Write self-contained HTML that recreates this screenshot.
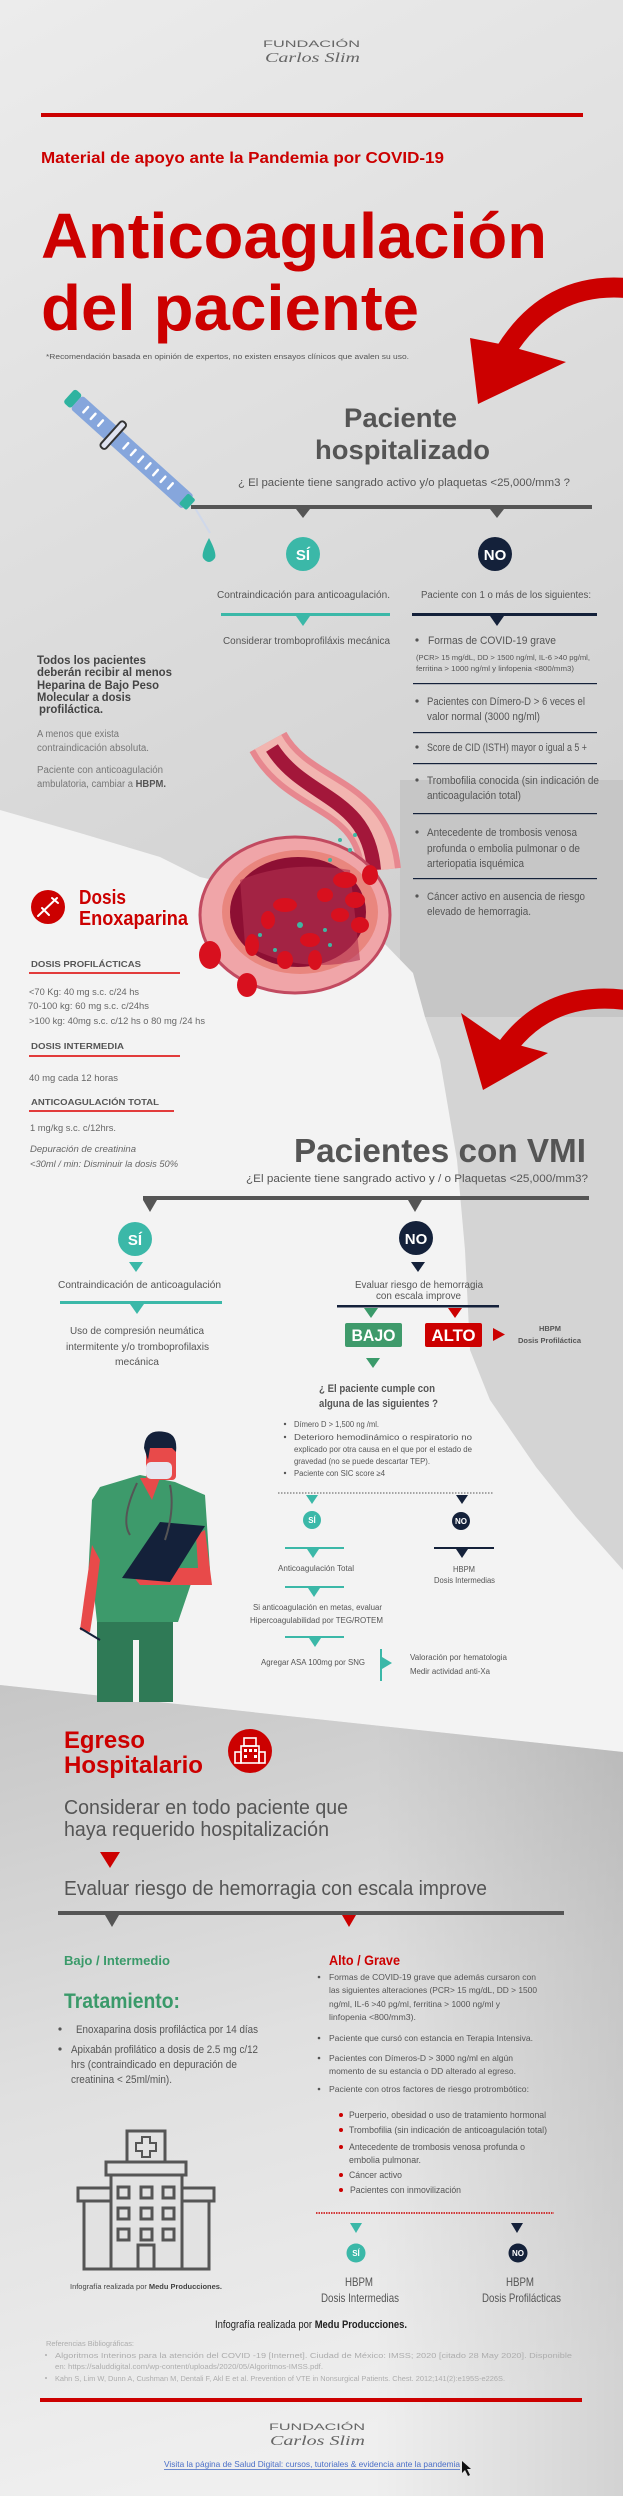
<!DOCTYPE html>
<html><head><meta charset="utf-8">
<style>
html,body{margin:0;padding:0;}
body{width:623px;height:2496px;overflow:hidden;background:#e0e0e0;}
svg{display:block;}
text{font-family:"Liberation Sans",sans-serif;}
</style></head>
<body>
<svg width="623" height="2496" viewBox="0 0 623 2496" xmlns="http://www.w3.org/2000/svg">
<defs>
<linearGradient id="gTop" x1="0" y1="0" x2="0.3" y2="1"><stop offset="0" stop-color="#ececec"/><stop offset="1" stop-color="#d0d0d0"/></linearGradient>
<linearGradient id="gBot" x1="0" y1="0" x2="0.2" y2="1"><stop offset="0" stop-color="#c6c6c6"/><stop offset="0.5" stop-color="#e0e0e0"/><stop offset="1" stop-color="#efefef"/></linearGradient>
<linearGradient id="gR" x1="0" y1="0" x2="1" y2="0"><stop offset="0.6" stop-color="#000" stop-opacity="0"/><stop offset="1" stop-color="#000" stop-opacity="0.12"/></linearGradient>
</defs>
<!-- backgrounds -->
<rect x="0" y="0" width="623" height="1100" fill="url(#gTop)"/>
<rect x="400" y="780" width="223" height="237" fill="#c6c6c6"/>
<rect x="420" y="1017" width="203" height="700" fill="#d4d4d4"/>
<polygon points="0,810 80,833 160,857 200,877 300,900 381,940 413,973 425,1017 440,1060 457,1160 465,1250 470,1350 490,1400 536,1467 576,1517 623,1570 623,1752 0,1685" fill="#f3f3f3"/>
<polygon points="0,1685 623,1752 623,2496 0,2496" fill="url(#gBot)"/>
<polygon points="0,1685 623,1752 623,2496 0,2496" fill="url(#gR)"/>

<!-- header -->
<text x="263" y="47" font-size="9" fill="#666" textLength="97" lengthAdjust="spacingAndGlyphs">FUNDACIÓN</text>
<text x="265" y="62" font-size="14" fill="#666" font-style="italic" style="font-family:'Liberation Serif',serif" textLength="95" lengthAdjust="spacingAndGlyphs">Carlos Slim</text>
<rect x="41" y="113" width="542" height="4" fill="#cc0000"/>
<text x="41" y="163" font-size="16" font-weight="bold" fill="#cc0000" textLength="403" lengthAdjust="spacingAndGlyphs">Material de apoyo ante la Pandemia por COVID-19</text>
<text x="41" y="258" font-size="64" font-weight="bold" fill="#cc0000" textLength="506" lengthAdjust="spacingAndGlyphs">Anticoagulación</text>
<text x="41" y="330" font-size="64" font-weight="bold" fill="#cc0000" textLength="378" lengthAdjust="spacingAndGlyphs">del paciente</text>
<text x="46" y="359" font-size="7" fill="#555" textLength="363" lengthAdjust="spacingAndGlyphs">*Recomendación basada en opinión de expertos, no existen ensayos clínicos que avalen su uso.</text>

<!-- red arrow 1 -->
<path d="M626,288 Q548,282 505,352" fill="none" stroke="#cc0000" stroke-width="20"/>
<polygon points="470,338 478,404 566,362 505,345" fill="#cc0000"/>

<!-- syringe -->
<g transform="translate(72,398) rotate(42)">
<rect x="-4" y="-9" width="10" height="18" rx="3" fill="#2fb3a0"/>
<rect x="6" y="-9" width="150" height="18" rx="3" fill="#86a6dc"/>
<rect x="52" y="-17" width="7" height="34" rx="3" fill="#dfe3f0" stroke="#333" stroke-width="2"/>
<g stroke="#fff" stroke-width="2.5" stroke-linecap="round">
<line x1="18" y1="-4" x2="18" y2="3"/><line x1="28" y1="-4" x2="28" y2="3"/><line x1="38" y1="-4" x2="38" y2="3"/>
<line x1="72" y1="-4" x2="72" y2="3"/><line x1="82" y1="-4" x2="82" y2="3"/><line x1="92" y1="-4" x2="92" y2="3"/><line x1="102" y1="-4" x2="102" y2="3"/><line x1="112" y1="-4" x2="112" y2="3"/><line x1="122" y1="-4" x2="122" y2="3"/><line x1="132" y1="-4" x2="132" y2="3"/></g>
<rect x="150" y="-7" width="10" height="14" rx="2" fill="#2fb3a0"/>
</g>
<line x1="195" y1="508" x2="210" y2="533" stroke="#cfd8ea" stroke-width="2"/>
<path d="M209,538 Q201,553 203,558 Q209,566 215,558 Q217,553 209,538 Z" fill="#2fb3a0"/>

<!-- Paciente hospitalizado -->
<text x="344" y="427" font-size="27" font-weight="bold" fill="#555" textLength="113" lengthAdjust="spacingAndGlyphs">Paciente</text>
<text x="315" y="459" font-size="27" font-weight="bold" fill="#555" textLength="175" lengthAdjust="spacingAndGlyphs">hospitalizado</text>
<text x="238" y="486" font-size="11" fill="#555" textLength="332" lengthAdjust="spacingAndGlyphs">¿ El paciente tiene sangrado activo y/o plaquetas &lt;25,000/mm3 ?</text>
<rect x="191" y="505" width="401" height="4" fill="#555"/>
<polygon points="296,509 310,509 303,518" fill="#555"/><polygon points="490,509 504,509 497,518" fill="#555"/>
<circle cx="303" cy="554" r="17" fill="#3bb8a8"/><text x="303" y="560" font-size="15" font-weight="bold" fill="#fff" text-anchor="middle">SÍ</text>
<circle cx="495" cy="554" r="17" fill="#14213a"/><text x="495" y="560" font-size="15" font-weight="bold" fill="#fff" text-anchor="middle">NO</text>
<text x="217" y="598" font-size="10" fill="#555" textLength="173" lengthAdjust="spacingAndGlyphs">Contraindicación para anticoagulación.</text>
<text x="421" y="598" font-size="10" fill="#555" textLength="170" lengthAdjust="spacingAndGlyphs">Paciente con 1 o más de los siguientes:</text>
<rect x="221" y="613" width="169" height="3" fill="#3bb8a8"/><polygon points="296,616 310,616 303,626" fill="#3bb8a8"/>
<rect x="412" y="613" width="185" height="3" fill="#14213a"/><polygon points="490,616 504,616 497,626" fill="#14213a"/>
<text x="223" y="644" font-size="10" fill="#555" textLength="167" lengthAdjust="spacingAndGlyphs">Considerar tromboprofiláxis mecánica</text>

<g fill="#555" font-size="11">
<circle cx="417" cy="640" r="1.6"/>
<text x="428" y="644" textLength="128" lengthAdjust="spacingAndGlyphs">Formas de COVID-19 grave</text>
<text x="416" y="660" font-size="7.5" textLength="174" lengthAdjust="spacingAndGlyphs">(PCR&gt; 15 mg/dL, DD &gt; 1500 ng/ml, IL-6 &gt;40 pg/ml,</text>
<text x="416" y="671" font-size="7.5" textLength="158" lengthAdjust="spacingAndGlyphs">ferritina &gt; 1000 ng/ml y linfopenia &lt;800/mm3)</text>
<circle cx="417" cy="701" r="1.6"/>
<text x="427" y="705" textLength="158" lengthAdjust="spacingAndGlyphs">Pacientes con Dímero-D &gt; 6 veces el</text>
<text x="427" y="720" textLength="113" lengthAdjust="spacingAndGlyphs">valor normal (3000 ng/ml)</text>
<circle cx="417" cy="747" r="1.6"/>
<text x="427" y="751" textLength="160" lengthAdjust="spacingAndGlyphs">Score de CID (ISTH) mayor o igual a 5 +</text>
<circle cx="417" cy="780" r="1.6"/>
<text x="427" y="784" textLength="172" lengthAdjust="spacingAndGlyphs">Trombofilia conocida (sin indicación de</text>
<text x="427" y="799" textLength="94" lengthAdjust="spacingAndGlyphs">anticoagulación total)</text>
<circle cx="417" cy="832" r="1.6"/>
<text x="427" y="836" textLength="150" lengthAdjust="spacingAndGlyphs">Antecedente de trombosis venosa</text>
<text x="427" y="852" textLength="153" lengthAdjust="spacingAndGlyphs">profunda o embolia pulmonar o de</text>
<text x="427" y="867" textLength="97" lengthAdjust="spacingAndGlyphs">arteriopatia isquémica</text>
<circle cx="417" cy="896" r="1.6"/>
<text x="427" y="900" textLength="158" lengthAdjust="spacingAndGlyphs">Cáncer activo en ausencia de riesgo</text>
<text x="427" y="915" textLength="104" lengthAdjust="spacingAndGlyphs">elevado de hemorragia.</text>
</g>
<g fill="#14213a"><rect x="413" y="683" width="184" height="1.2"/><rect x="413" y="732" width="184" height="1.2"/><rect x="413" y="763" width="184" height="1.2"/><rect x="413" y="813" width="184" height="1.2"/><rect x="413" y="878" width="184" height="1.2"/></g>

<!-- left block -->
<g font-size="12" font-weight="bold" fill="#444">
<text x="37" y="664" textLength="109" lengthAdjust="spacingAndGlyphs">Todos los pacientes</text>
<text x="37" y="676" textLength="135" lengthAdjust="spacingAndGlyphs">deberán recibir al menos</text>
<text x="37" y="689" textLength="122" lengthAdjust="spacingAndGlyphs">Heparina de Bajo Peso</text>
<text x="37" y="701" textLength="94" lengthAdjust="spacingAndGlyphs">Molecular a dosis</text>
<text x="39" y="713" textLength="64" lengthAdjust="spacingAndGlyphs">profiláctica.</text>
</g>
<g font-size="10" fill="#777">
<text x="37" y="737" textLength="82" lengthAdjust="spacingAndGlyphs">A menos que exista</text>
<text x="37" y="751" textLength="112" lengthAdjust="spacingAndGlyphs">contraindicación absoluta.</text>
<text x="37" y="773" textLength="126" lengthAdjust="spacingAndGlyphs">Paciente con anticoagulación</text>
<text x="37" y="787" textLength="129" lengthAdjust="spacingAndGlyphs">ambulatoria, cambiar a <tspan font-weight="bold" fill="#555">HBPM.</tspan></text>
</g>

<!-- vein -->
<path d="M268,742 C300,800 372,790 380,870" fill="none" stroke="#e7878f" stroke-width="42"/>
<path d="M268,742 C300,800 372,790 380,870" fill="none" stroke="#f2b5b0" stroke-width="30"/>
<path d="M272,748 C305,800 368,795 374,870" fill="none" stroke="#a3173a" stroke-width="14"/>
<ellipse cx="295" cy="915" rx="95" ry="78" fill="#f0a5a8" stroke="#c24a60" stroke-width="3"/>
<ellipse cx="300" cy="912" rx="78" ry="62" fill="#e9867e"/>
<ellipse cx="298" cy="912" rx="68" ry="55" fill="#8d0f33"/>
<path d="M240,880 Q290,860 350,870 L360,960 Q300,975 245,945 Z" fill="#b33050" opacity="0.6"/>
<g fill="#d8101e">
<ellipse cx="285" cy="905" rx="12" ry="7"/><ellipse cx="252" cy="945" rx="7" ry="11"/><ellipse cx="310" cy="940" rx="10" ry="7"/>
<ellipse cx="345" cy="880" rx="12" ry="8"/><ellipse cx="355" cy="900" rx="10" ry="8"/><ellipse cx="340" cy="915" rx="9" ry="7"/>
<ellipse cx="360" cy="925" rx="9" ry="8"/><ellipse cx="285" cy="960" rx="8" ry="9"/><ellipse cx="315" cy="960" rx="7" ry="10"/>
<ellipse cx="210" cy="955" rx="11" ry="14"/><ellipse cx="247" cy="985" rx="10" ry="12"/><ellipse cx="370" cy="875" rx="8" ry="10"/>
<ellipse cx="325" cy="895" rx="8" ry="7"/><ellipse cx="268" cy="920" rx="7" ry="9"/></g>
<g fill="#3fb6a2"><circle cx="340" cy="840" r="2"/><circle cx="350" cy="850" r="2"/><circle cx="330" cy="860" r="2"/><circle cx="355" cy="835" r="2"/><circle cx="300" cy="925" r="3"/><circle cx="260" cy="935" r="2"/><circle cx="325" cy="930" r="2"/><circle cx="275" cy="950" r="2"/><circle cx="330" cy="945" r="2"/></g>

<!-- Dosis Enoxaparina -->
<circle cx="48" cy="907" r="17" fill="#cc0000"/>
<g stroke="#fff" stroke-width="2" fill="none" stroke-linecap="round"><line x1="38" y1="916" x2="57" y2="898"/><line x1="42" y1="908" x2="49" y2="915"/><line x1="52" y1="898" x2="58" y2="903"/></g>
<text x="79" y="904" font-size="20" font-weight="bold" fill="#cc0000" textLength="47" lengthAdjust="spacingAndGlyphs">Dosis</text>
<text x="79" y="925" font-size="20" font-weight="bold" fill="#cc0000" textLength="109" lengthAdjust="spacingAndGlyphs">Enoxaparina</text>
<g font-size="8.5" font-weight="bold" fill="#555">
<text x="31" y="967" textLength="110" lengthAdjust="spacingAndGlyphs">DOSIS PROFILÁCTICAS</text>
<text x="31" y="1049" textLength="93" lengthAdjust="spacingAndGlyphs">DOSIS INTERMEDIA</text>
<text x="31" y="1105" textLength="128" lengthAdjust="spacingAndGlyphs">ANTICOAGULACIÓN TOTAL</text>
</g>
<g fill="#e23b3b"><rect x="29" y="972" width="151" height="2"/><rect x="29" y="1055" width="151" height="2"/><rect x="29" y="1110" width="145" height="2"/></g>
<g font-size="9.5" fill="#666">
<text x="29" y="995" textLength="110" lengthAdjust="spacingAndGlyphs">&lt;70 Kg: 40 mg s.c. c/24 hs</text>
<text x="28" y="1009" textLength="121" lengthAdjust="spacingAndGlyphs">70-100 kg: 60 mg s.c. c/24hs</text>
<text x="29" y="1024" textLength="176" lengthAdjust="spacingAndGlyphs">&gt;100 kg: 40mg s.c. c/12 hs o 80 mg /24 hs</text>
<text x="29" y="1081" textLength="89" lengthAdjust="spacingAndGlyphs">40 mg cada 12 horas</text>
<text x="30" y="1131" textLength="86" lengthAdjust="spacingAndGlyphs">1 mg/kg s.c. c/12hrs.</text>
<text x="30" y="1152" font-style="italic" textLength="106" lengthAdjust="spacingAndGlyphs">Depuración de creatinina</text>
<text x="30" y="1167" font-style="italic" textLength="148" lengthAdjust="spacingAndGlyphs">&lt;30ml / min:  Disminuir la dosis 50%</text>
</g>

<!-- red arrow 2 -->
<path d="M626,1000 Q548,990 505,1050" fill="none" stroke="#cc0000" stroke-width="20"/>
<polygon points="461,1013 483,1090 548,1053 500,1040" fill="#cc0000"/>

<!-- VMI -->
<text x="294" y="1162" font-size="33" font-weight="bold" fill="#555" textLength="292" lengthAdjust="spacingAndGlyphs">Pacientes con VMI</text>
<text x="246" y="1182" font-size="11" fill="#555" textLength="342" lengthAdjust="spacingAndGlyphs">¿El paciente tiene sangrado activo y / o Plaquetas  &lt;25,000/mm3?</text>
<rect x="143" y="1196" width="446" height="4" fill="#555"/>
<polygon points="143,1200 157,1200 150,1212" fill="#555"/><polygon points="408,1200 422,1200 415,1212" fill="#555"/>
<circle cx="135" cy="1239" r="17" fill="#3bb8a8"/><text x="135" y="1245" font-size="15" font-weight="bold" fill="#fff" text-anchor="middle">SÍ</text>
<circle cx="416" cy="1238" r="17" fill="#14213a"/><text x="416" y="1244" font-size="15" font-weight="bold" fill="#fff" text-anchor="middle">NO</text>
<polygon points="129,1262 143,1262 136,1272" fill="#3bb8a8"/><polygon points="411,1262 425,1262 418,1272" fill="#14213a"/>
<g font-size="10.5" fill="#555">
<text x="58" y="1288" textLength="163" lengthAdjust="spacingAndGlyphs">Contraindicación de anticoagulación</text>
<text x="70" y="1334" textLength="134" lengthAdjust="spacingAndGlyphs">Uso de compresión neumática</text>
<text x="66" y="1350" textLength="143" lengthAdjust="spacingAndGlyphs">intermitente y/o tromboprofilaxis</text>
<text x="115" y="1365" textLength="44" lengthAdjust="spacingAndGlyphs">mecánica</text>
<text x="355" y="1288" textLength="128" lengthAdjust="spacingAndGlyphs">Evaluar riesgo de hemorragia</text>
<text x="376" y="1299" textLength="85" lengthAdjust="spacingAndGlyphs">con escala improve</text>
</g>
<rect x="60" y="1301" width="162" height="3" fill="#3bb8a8"/><polygon points="130,1304 144,1304 137,1314" fill="#3bb8a8"/>
<rect x="337" y="1305" width="162" height="2.5" fill="#14213a"/>
<polygon points="364,1308 378,1308 371,1318" fill="#3a9a6a"/><polygon points="448,1308 462,1308 455,1318" fill="#cc0000"/>
<rect x="345" y="1323" width="57" height="24" rx="2" fill="#3f9a6b"/>
<text x="351.5" y="1341" font-size="17" font-weight="bold" fill="#fff" textLength="44" lengthAdjust="spacingAndGlyphs">BAJO</text>
<rect x="425" y="1323" width="57" height="24" rx="2" fill="#cc0000"/>
<text x="431.5" y="1341" font-size="17" font-weight="bold" fill="#fff" textLength="44" lengthAdjust="spacingAndGlyphs">ALTO</text>
<polygon points="493,1328 493,1341 505,1334.5" fill="#cc0000"/>
<text x="539" y="1331" font-size="7.5" font-weight="bold" fill="#555" textLength="22" lengthAdjust="spacingAndGlyphs">HBPM</text>
<text x="518" y="1343" font-size="7.5" font-weight="bold" fill="#555" textLength="63" lengthAdjust="spacingAndGlyphs">Dosis Profiláctica</text>
<polygon points="366,1358 380,1358 373,1368" fill="#3a9a6a"/>
<text x="319" y="1392" font-size="11" font-weight="bold" fill="#555" textLength="116" lengthAdjust="spacingAndGlyphs">¿ El paciente cumple con</text>
<text x="319" y="1407" font-size="11" font-weight="bold" fill="#555" textLength="119" lengthAdjust="spacingAndGlyphs">alguna de las siguientes ?</text>
<g font-size="8" fill="#555">
<circle cx="285" cy="1424" r="1.2"/><circle cx="285" cy="1437" r="1.2"/><circle cx="285" cy="1473" r="1.2"/>
<text x="294" y="1427" textLength="85" lengthAdjust="spacingAndGlyphs">Dímero D &gt; 1,500 ng /ml.</text>
<text x="294" y="1440" textLength="178" lengthAdjust="spacingAndGlyphs">Deterioro    hemodinámico    o    respiratorio    no</text>
<text x="294" y="1452" textLength="178" lengthAdjust="spacingAndGlyphs">explicado por otra causa en el que por el estado de</text>
<text x="294" y="1464" textLength="136" lengthAdjust="spacingAndGlyphs">gravedad (no se puede descartar TEP).</text>
<text x="294" y="1476" textLength="91" lengthAdjust="spacingAndGlyphs">Paciente con SIC score ≥4</text>
</g>
<line x1="278" y1="1493" x2="494" y2="1493" stroke="#555" stroke-width="1" stroke-dasharray="1.5 1.5"/>
<polygon points="306,1495 318,1495 312,1504" fill="#3bb8a8"/><polygon points="456,1495 468,1495 462,1504" fill="#14213a"/>
<circle cx="312" cy="1520" r="9" fill="#3bb8a8"/><text x="312" y="1523" font-size="8" font-weight="bold" fill="#fff" text-anchor="middle">SÍ</text>
<circle cx="461" cy="1521" r="9" fill="#14213a"/><text x="461" y="1524" font-size="8" font-weight="bold" fill="#fff" text-anchor="middle">NO</text>
<rect x="285" y="1547" width="59" height="2" fill="#3bb8a8"/><polygon points="307,1549 319,1549 313,1558" fill="#3bb8a8"/>
<rect x="434" y="1547" width="60" height="2" fill="#14213a"/><polygon points="456,1549 468,1549 462,1558" fill="#14213a"/>
<g font-size="8" fill="#555">
<text x="278" y="1571" textLength="76" lengthAdjust="spacingAndGlyphs">Anticoagulación Total</text>
<text x="453" y="1572" textLength="22" lengthAdjust="spacingAndGlyphs">HBPM</text>
<text x="434" y="1583" textLength="61" lengthAdjust="spacingAndGlyphs">Dosis Intermedias</text>
<text x="253" y="1610" textLength="129" lengthAdjust="spacingAndGlyphs">Si anticoagulación en metas, evaluar</text>
<text x="250" y="1623" textLength="133" lengthAdjust="spacingAndGlyphs">Hipercoagulabilidad por TEG/ROTEM</text>
<text x="261" y="1665" textLength="104" lengthAdjust="spacingAndGlyphs">Agregar ASA 100mg por SNG</text>
<text x="410" y="1660" textLength="97" lengthAdjust="spacingAndGlyphs">Valoración por hematologia</text>
<text x="410" y="1674" textLength="80" lengthAdjust="spacingAndGlyphs">Medir actividad anti-Xa</text>
</g>
<rect x="285" y="1586" width="59" height="2" fill="#3bb8a8"/><polygon points="308,1588 320,1588 314,1597" fill="#3bb8a8"/>
<rect x="285" y="1636" width="59" height="2" fill="#3bb8a8"/><polygon points="309,1638 321,1638 315,1647" fill="#3bb8a8"/>
<rect x="380" y="1649" width="2" height="32" fill="#3bb8a8"/><polygon points="382,1657 382,1669 392,1663" fill="#3bb8a8"/>

<!-- doctor -->
<g>
<rect x="97" y="1622" width="76" height="80" fill="#2f7a56"/>
<rect x="133" y="1640" width="6" height="62" fill="#f3f3f3"/>
<path d="M100,1487 L140,1475 L175,1482 L205,1495 L210,1570 L195,1572 L178,1622 L97,1622 L92,1575 L88,1580 L92,1500 Z" fill="#3d9a6b"/>
<polygon points="140,1478 160,1478 152,1500" fill="#e84a4a"/>
<path d="M92,1545 L84,1600 L80,1630 L90,1632 L95,1600 L100,1560 Z" fill="#e84a4a"/>
<path d="M205,1530 L212,1585 L140,1585 L132,1575 L150,1568 L198,1568 L196,1535 Z" fill="#e84a4a"/>
<polygon points="160,1522 205,1526 170,1582 122,1578" fill="#14213a"/>
<rect x="146" y="1446" width="30" height="34" rx="4" fill="#e84a4a"/>
<path d="M144,1448 Q145,1428 165,1432 Q178,1434 176,1452 L172,1448 L150,1448 L148,1460 Z" fill="#14213a"/>
<rect x="146" y="1462" width="26" height="17" rx="5" fill="#e7e7f0"/>
<path d="M137,1483 Q120,1520 130,1535 M170,1485 Q175,1510 165,1540" fill="none" stroke="#555" stroke-width="2"/>
<line x1="80" y1="1628" x2="100" y2="1640" stroke="#14213a" stroke-width="2"/>
</g>

<!-- Egreso -->
<text x="64" y="1748" font-size="24" font-weight="bold" fill="#cc0000" textLength="81" lengthAdjust="spacingAndGlyphs">Egreso</text>
<text x="64" y="1773" font-size="24" font-weight="bold" fill="#cc0000" textLength="139" lengthAdjust="spacingAndGlyphs">Hospitalario</text>
<circle cx="250" cy="1751" r="22" fill="#cc0000"/>
<g fill="none" stroke="#fff" stroke-width="1.6"><rect x="244" y="1738" width="12" height="8"/><rect x="241" y="1746" width="18" height="17"/><rect x="235" y="1752" width="6" height="11"/><rect x="259" y="1752" width="6" height="11"/></g>
<g fill="#fff"><rect x="244" y="1749" width="3" height="3"/><rect x="249" y="1749" width="3" height="3"/><rect x="254" y="1749" width="3" height="3"/><rect x="244" y="1755" width="3" height="3"/><rect x="254" y="1755" width="3" height="3"/></g>
<text x="64" y="1814" font-size="20" fill="#555" textLength="284" lengthAdjust="spacingAndGlyphs">Considerar en todo paciente que</text>
<text x="64" y="1836" font-size="20" fill="#555" textLength="265" lengthAdjust="spacingAndGlyphs">haya requerido hospitalización</text>
<polygon points="100,1852 120,1852 110,1868" fill="#cc0000"/>
<text x="64" y="1895" font-size="20" fill="#555" textLength="423" lengthAdjust="spacingAndGlyphs">Evaluar riesgo de hemorragia con escala improve</text>
<rect x="58" y="1911" width="506" height="4" fill="#555"/>
<polygon points="105,1915 119,1915 112,1927" fill="#555"/><polygon points="342,1915 356,1915 349,1927" fill="#cc0000"/>
<text x="64" y="1965" font-size="13" font-weight="bold" fill="#3a9a6a" textLength="106" lengthAdjust="spacingAndGlyphs">Bajo / Intermedio</text>
<text x="329" y="1965" font-size="14" font-weight="bold" fill="#cc0000" textLength="71" lengthAdjust="spacingAndGlyphs">Alto / Grave</text>
<text x="64" y="2008" font-size="21" font-weight="bold" fill="#3a9a6a" textLength="116" lengthAdjust="spacingAndGlyphs">Tratamiento:</text>
<g font-size="11" fill="#555">
<circle cx="60" cy="2029" r="1.6"/><circle cx="60" cy="2049" r="1.6"/>
<text x="76" y="2033" textLength="182" lengthAdjust="spacingAndGlyphs">Enoxaparina dosis profiláctica por 14 días</text>
<text x="71" y="2053" textLength="187" lengthAdjust="spacingAndGlyphs">Apixabán profilático a dosis de 2.5 mg c/12</text>
<text x="71" y="2068" textLength="166" lengthAdjust="spacingAndGlyphs">hrs (contraindicado en depuración de</text>
<text x="71" y="2083" textLength="101" lengthAdjust="spacingAndGlyphs">creatinina &lt; 25ml/min).</text>
</g>
<g font-size="8.5" fill="#555">
<circle cx="319" cy="1977" r="1.3"/><circle cx="319" cy="2038" r="1.3"/><circle cx="319" cy="2058" r="1.3"/><circle cx="319" cy="2089" r="1.3"/>
<text x="329" y="1980" textLength="207" lengthAdjust="spacingAndGlyphs">Formas de COVID-19 grave que además cursaron con</text>
<text x="329" y="1993" textLength="208" lengthAdjust="spacingAndGlyphs">las siguientes alteraciones (PCR&gt; 15 mg/dL, DD &gt; 1500</text>
<text x="329" y="2007" textLength="171" lengthAdjust="spacingAndGlyphs">ng/ml, IL-6 &gt;40 pg/ml, ferritina &gt; 1000 ng/ml y</text>
<text x="329" y="2020" textLength="87" lengthAdjust="spacingAndGlyphs">linfopenia &lt;800/mm3).</text>
<text x="329" y="2041" textLength="204" lengthAdjust="spacingAndGlyphs">Paciente que cursó con estancia en Terapia Intensiva.</text>
<text x="329" y="2061" textLength="184" lengthAdjust="spacingAndGlyphs">Pacientes con Dímeros-D &gt; 3000 ng/ml en algún</text>
<text x="329" y="2074" textLength="187" lengthAdjust="spacingAndGlyphs">momento de su estancia o DD alterado al egreso.</text>
<text x="329" y="2092" textLength="200" lengthAdjust="spacingAndGlyphs">Paciente con otros factores de riesgo protrombótico:</text>
</g>
<g fill="#cc0000"><circle cx="341" cy="2115" r="2"/><circle cx="341" cy="2130" r="2"/><circle cx="341" cy="2147" r="2"/><circle cx="341" cy="2175" r="2"/><circle cx="341" cy="2190" r="2"/></g>
<g font-size="9" fill="#555">
<text x="349" y="2118" textLength="197" lengthAdjust="spacingAndGlyphs">Puerperio, obesidad o uso de tratamiento hormonal</text>
<text x="349" y="2133" textLength="198" lengthAdjust="spacingAndGlyphs">Trombofilia (sin indicación de anticoagulación total)</text>
<text x="349" y="2150" textLength="176" lengthAdjust="spacingAndGlyphs">Antecedente de trombosis venosa profunda o</text>
<text x="349" y="2163" textLength="72" lengthAdjust="spacingAndGlyphs">embolia pulmonar.</text>
<text x="349" y="2178" textLength="53" lengthAdjust="spacingAndGlyphs">Cáncer activo</text>
<text x="350" y="2193" textLength="111" lengthAdjust="spacingAndGlyphs">Pacientes con inmovilización</text>
</g>
<line x1="316" y1="2213" x2="554" y2="2213" stroke="#cc0000" stroke-width="1.5" stroke-dasharray="1.5 1"/>
<polygon points="350,2223 362,2223 356,2233" fill="#3bb8a8"/><polygon points="511,2223 523,2223 517,2233" fill="#14213a"/>
<circle cx="356" cy="2253" r="9.5" fill="#3bb8a8"/><text x="356" y="2256" font-size="8" font-weight="bold" fill="#fff" text-anchor="middle">SÍ</text>
<circle cx="518" cy="2253" r="9.5" fill="#14213a"/><text x="518" y="2256" font-size="8" font-weight="bold" fill="#fff" text-anchor="middle">NO</text>
<g font-size="12" fill="#555">
<text x="345" y="2286" textLength="28" lengthAdjust="spacingAndGlyphs">HBPM</text>
<text x="321" y="2302" textLength="78" lengthAdjust="spacingAndGlyphs">Dosis Intermedias</text>
<text x="506" y="2286" textLength="28" lengthAdjust="spacingAndGlyphs">HBPM</text>
<text x="482" y="2302" textLength="79" lengthAdjust="spacingAndGlyphs">Dosis Profilácticas</text>
</g>

<!-- hospital icon -->
<g fill="#e2e2e2" stroke="#555" stroke-width="3">
<rect x="84" y="2201" width="30" height="68"/><rect x="178" y="2201" width="31" height="68"/>
<rect x="78" y="2188" width="36" height="13"/><rect x="178" y="2188" width="36" height="13"/>
<rect x="127" y="2131" width="38" height="31"/>
<rect x="111" y="2175" width="71" height="94"/>
<rect x="106" y="2162" width="80" height="13"/>
<rect x="118" y="2187" width="11" height="11"/><rect x="141" y="2187" width="11" height="11"/><rect x="163" y="2187" width="11" height="11"/>
<rect x="118" y="2208" width="11" height="11"/><rect x="141" y="2208" width="11" height="11"/><rect x="163" y="2208" width="11" height="11"/>
<rect x="118" y="2229" width="11" height="11"/><rect x="141" y="2229" width="11" height="11"/><rect x="163" y="2229" width="11" height="11"/>
<rect x="138" y="2245" width="16" height="24"/>
<path d="M142,2137 h8 v6 h6 v8 h-6 v6 h-8 v-6 h-6 v-8 h6 z" stroke-width="2"/>
</g>
<text x="70" y="2289" font-size="7.5" fill="#444" textLength="152" lengthAdjust="spacingAndGlyphs">Infografía realizada por <tspan font-weight="bold">Medu Producciones.</tspan></text>
<text x="215" y="2328" font-size="11" fill="#222" textLength="192" lengthAdjust="spacingAndGlyphs">Infografía realizada por <tspan font-weight="bold">Medu Producciones.</tspan></text>
<g font-size="7" fill="#adadad">
<text x="46" y="2346" textLength="88" lengthAdjust="spacingAndGlyphs">Referencias Bibliográficas:</text>
<circle cx="46" cy="2355" r="1"/><circle cx="46" cy="2378" r="1"/>
<text x="55" y="2358" textLength="517" lengthAdjust="spacingAndGlyphs">Algoritmos  Interinos  para  la  atención  del  COVID  -19  [Internet].  Ciudad  de  México:  IMSS;  2020  [citado  28  May  2020].  Disponible</text>
<text x="55" y="2369" textLength="268" lengthAdjust="spacingAndGlyphs">en: https://saluddigital.com/wp-content/uploads/2020/05/Algoritmos-IMSS.pdf.</text>
<text x="55" y="2381" textLength="450" lengthAdjust="spacingAndGlyphs">Kahn S, Lim W, Dunn A, Cushman M, Dentali F, Akl E et al. Prevention of VTE in Nonsurgical Patients. Chest. 2012;141(2):e195S-e226S.</text>
</g>
<rect x="40" y="2398" width="542" height="4" fill="#cc0000"/>
<text x="269" y="2430" font-size="9" fill="#666" textLength="96" lengthAdjust="spacingAndGlyphs">FUNDACIÓN</text>
<text x="270" y="2445" font-size="14" fill="#666" font-style="italic" style="font-family:'Liberation Serif',serif" textLength="95" lengthAdjust="spacingAndGlyphs">Carlos Slim</text>
<text x="164" y="2467" font-size="8.5" fill="#4a6fc7" textLength="296" lengthAdjust="spacingAndGlyphs">Visita la página de Salud Digital: cursos, tutoriales &amp; evidencia ante la pandemia</text>
<rect x="164" y="2469" width="296" height="0.8" fill="#4a6fc7"/>
<polygon points="462,2461 462,2473 465,2470 468,2476 470,2475 467,2469 471,2469" fill="#111"/>
</svg>
</body></html>
